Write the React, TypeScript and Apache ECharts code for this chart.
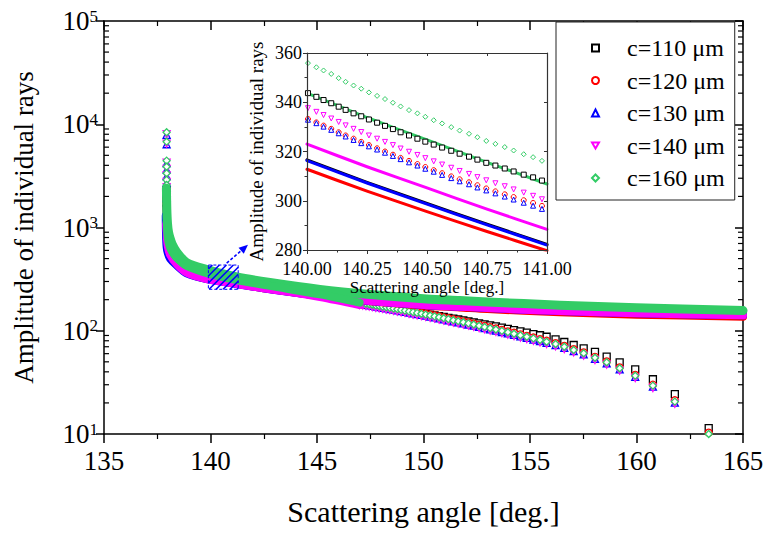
import React, { useEffect, useRef } from 'react';
import * as echarts from 'echarts';

const FONT = 'Liberation Serif';

const seriesNames = ['c=110 μm', 'c=120 μm', 'c=130 μm', 'c=140 μm', 'c=160 μm'];
const seriesColors = ['#000000', '#ff0000', '#0000ff', '#ff00ff', '#33cc66'];
const seriesSymbols = ['rect', 'circle', 'triangle', 'path://M0,0L10,0L5,8.66Z', 'diamond'];

// ---- main plot: upper (dense) branch, [angle, amplitude]
const upper110 = [[137.93,1600],[137.96,1050],[138.0,860],[138.1,680],[138.41,510],[138.88,410],[139.82,352],[141.23,307],[142.79,271],[145.14,233],[147.5,208],[150.15,190],[151.7,183],[153,177],[156.4,166],[160,157],[165,149]];
const upper120 = [[137.93,1000],[137.97,700],[138.05,580],[138.41,445],[138.88,368],[139.82,318],[141.23,285],[142.79,253],[145.14,218],[147.5,193],[150.15,175],[151.7,168],[153,162],[156.4,151],[160,143],[165,137]];
const upper130 = [[137.9,1300],[137.91,900],[137.94,650],[138.0,560],[138.1,500],[138.41,430],[138.88,360],[139.82,316],[141.23,284],[142.79,252],[145.14,218],[147.5,194],[150.15,177],[151.7,171],[153,166],[156.4,155],[160,148],[165,141]];
const upper140 = [[137.93,1100],[137.96,760],[138.0,650],[138.1,545],[138.41,443],[138.88,365],[139.82,317],[141.23,284],[142.79,252],[145.14,218],[147.5,194],[150.15,177],[151.7,171],[153,166],[156.4,155],[160,148],[165,141]];
const upper160 = [[137.93,2400],[137.95,1500],[137.98,1100],[138.03,900],[138.1,790],[138.2,690],[138.41,580],[138.88,458],[139.82,392],[141.23,332],[142.79,293],[145.14,251],[147.5,224],[150.15,203],[151.7,196],[153,190],[156.4,177],[160,167],[165,157]];

// ---- main plot: lower branch where its markers overlap into a band (before 147°)
const lower110 = [[137.94,1200],[138.02,720],[138.1,620],[138.41,495],[138.88,415],[139.82,356],[141.23,305],[142.79,268],[145.14,222],[147.0,185.2]];
const lower120 = [[137.94,1250],[138.02,730],[138.1,630],[138.41,500],[138.88,420],[139.82,360],[141.23,309],[142.79,272],[145.14,226],[147.0,190.8]];
const lower130 = [[137.93,1100],[138.02,690],[138.1,600],[138.41,485],[138.88,408],[139.82,350],[141.23,300],[142.79,263],[145.14,217],[147.0,182.4]];
const lower140 = [[137.93,1050],[138.02,680],[138.1,590],[138.41,478],[138.88,402],[139.82,344],[141.23,295],[142.79,258],[145.14,212],[147.0,177.7]];
const lower160 = [[137.94,1300],[137.97,900],[138.02,740],[138.1,640],[138.2,580],[138.41,507],[138.88,424],[139.82,362],[141.23,310],[142.79,272],[145.14,225],[147.0,187.1]];

// ---- main plot: lower branch, individual markers (147° onwards)
const tailAngles = [147.0,147.15,147.3,147.45,147.6,147.76,147.92,148.08,148.25,148.42,148.59,148.77,148.95,149.13,149.32,149.51,149.7,149.9,150.1,150.31,150.52,150.73,150.95,151.17,151.4,151.63,151.87,152.11,152.36,152.61,152.87,153.13,153.4,153.68,153.96,154.25,154.55,154.85,155.16,155.47,155.78,156.2,156.61,157.05,157.52,158.05,158.6,159.21,159.94,160.77,161.8,163.39];
const tail110 = [185.2,183.1,180.9,178.7,176.5,174.2,172.0,170.5,168.2,165.8,163.4,161.7,159.2,157.0,154.8,152.5,150.4,148.0,145.8,143.4,141.0,138.6,136.0,133.5,131.0,128.6,126.0,123.5,120.8,118.1,115.4,112.8,110.1,107.3,104.4,101.6,98.6,95.7,92.7,90.5,87.5,82.6,77.8,72.8,67.6,62.3,56.1,49.5,42.3,33.9,24.3,11.4];
const tail120 = [190.8,188.6,186.4,184.1,181.9,179.5,177.2,174.8,172.4,169.9,167.5,164.9,162.4,159.8,157.1,154.4,151.9,149.0,146.4,143.5,140.7,137.9,134.9,132.1,129.1,126.3,123.2,120.3,117.2,114.1,111.1,108.0,105.0,101.8,98.6,95.5,92.3,89.1,86.0,82.9,79.9,75.9,71.4,66.4,61.7,55.9,50.5,44.2,37.4,30.0,21.2,10.3];
const tail130 = [182.4,180.3,178.1,176.0,173.8,171.6,169.4,167.1,164.8,162.4,160.1,157.7,155.2,152.8,150.2,147.6,145.2,142.4,139.9,137.2,134.5,131.8,129.0,126.3,123.4,120.7,117.8,115.0,112.0,109.1,106.2,103.3,100.3,97.3,94.3,91.3,88.2,85.2,82.2,79.3,76.3,72.5,68.3,63.5,59.0,53.4,48.3,42.2,35.8,28.7,20.1,9.8];
const tail140 = [177.7,175.7,173.6,171.5,169.4,167.2,165.0,162.8,160.6,158.3,156.0,153.6,151.2,148.9,146.3,143.8,141.5,138.8,136.3,133.7,131.0,128.4,125.7,123.0,120.3,117.6,114.8,112.0,109.2,106.3,103.5,100.6,97.8,94.8,91.9,88.9,86.0,83.0,80.1,77.2,74.4,70.7,66.5,61.8,57.5,52.1,47.0,41.1,34.9,27.9,19.6,9.5];
const tail160 = [187.1,184.9,182.7,180.5,178.3,176.0,173.7,171.4,169.0,166.6,164.2,161.7,159.2,156.7,154.0,151.4,148.9,146.1,143.5,140.7,137.9,135.2,132.3,129.5,126.6,123.8,120.8,117.9,114.9,111.9,108.9,105.9,102.9,99.8,96.7,93.6,90.5,87.4,84.3,81.3,78.3,74.4,70.0,65.1,60.5,54.8,49.5,43.3,36.7,29.4,20.6,10.0];

// ---- main plot: caustic spike at the rainbow angle
const spikeAngle = 137.94;
const spike110 = [2300,2100,1900,1750];
const spike120 = [2250,2050,1880,1720];
const spike130 = [7900,6400,4200,3650,3150,2720,2430,2170,1940];
const spike140 = [8000,6500,4250,3700,3200,2760,2460,2200,1960];
const spike160 = [8360,6780,4440,3880,3350,2890,2580,2310,2060];

// ---- inset: sparse branch markers
const insetAngles = [140.004,140.039,140.069,140.101,140.132,140.161,140.194,140.226,140.258,140.292,140.325,140.358,140.390,140.425,140.460,140.493,140.528,140.563,140.601,140.636,140.675,140.710,140.747,140.785,140.824,140.861,140.903,140.942,140.979];
const insetSparse110 = [343.7,342.2,340.9,339.6,338.2,336.9,335.5,334.3,333.0,331.7,330.4,329.1,327.8,326.5,325.2,324.0,322.8,321.6,320.3,319.1,317.9,316.7,315.4,314.3,313.1,311.9,310.6,309.5,308.2];
const insetSparse120 = [333.2,331.8,330.5,329.2,327.8,326.5,325.2,323.9,322.6,321.3,320.0,318.7,317.4,316.2,314.9,313.7,312.4,311.2,309.9,308.7,307.5,306.3,305.0,303.8,302.6,301.5,300.2,299.1,297.9];
const insetSparse130 = [332.9,331.5,330.1,328.8,327.4,326.1,324.7,323.4,322.1,320.8,319.5,318.2,316.9,315.6,314.3,313.0,311.8,310.5,309.2,307.9,306.7,305.4,304.2,303.0,301.7,300.5,299.2,298.0,296.7];
const insetSparse140 = [337.6,336.1,334.8,333.4,332.0,330.6,329.2,327.9,326.5,325.2,323.9,322.6,321.2,319.9,318.6,317.3,316.0,314.7,313.4,312.1,310.9,309.6,308.3,307.1,305.9,304.6,303.3,302.0,300.6];
const insetSparse160 = [355.9,354.2,352.9,351.5,349.8,348.3,346.8,345.5,344.0,342.6,341.3,339.8,338.3,336.8,335.5,334.1,332.7,331.4,329.9,328.5,327.2,325.8,324.3,323.1,321.8,320.4,318.9,317.7,316.2];

// ---- inset: dense branch
const insetDense110 = [[140,316.6],[140.25,307.5],[140.5,298.9],[140.75,290.5],[141,282.3]];
const insetDense120 = [[140,312.8],[140.25,303.9],[140.5,295.6],[140.75,287.5],[141,279.7]];
const insetDense130 = [[140,316.3],[140.25,307.2],[140.5,298.6],[140.75,290.2],[141,282.0]];
const insetDense140 = [[140,323.0],[140.25,313.8],[140.5,305.2],[140.75,296.6],[141,288.4]];
const insetDense160 = [[140,343.7],[140.25,333.8],[140.5,324.7],[140.75,315.6],[141,306.8]];

// ---- annotation: zoom box and arrow, data coordinates
const zoomBoxAngles = [139.9, 141.3];
const zoomBoxAmps = [252, 433];
const arrowFrom = [140.76, 452];
const arrowTo = [141.76, 680];

const uppers = [upper110, upper120, upper130, upper140, upper160];
const lowers = [lower110, lower120, lower130, lower140, lower160];
const tails = [tail110, tail120, tail130, tail140, tail160];
const spikes = [spike110, spike120, spike130, spike140, spike160];
const insetSparse = [insetSparse110, insetSparse120, insetSparse130, insetSparse140, insetSparse160];
const insetDense = [insetDense110, insetDense120, insetDense130, insetDense140, insetDense160];

function buildOption() {
  const series: any[] = [];
  const lineS = (name: string, data: any, color: string, width: number, xi: number, yi: number) => ({
    type: 'line', name, data, xAxisIndex: xi, yAxisIndex: yi, showSymbol: false, symbol: 'none',
    smooth: 0.3, clip: true, silent: true,
    lineStyle: { color, width, cap: 'round', join: 'round' },
  });
  const scatS = (name: string, data: any, i: number, size: number, xi: number, yi: number, bw: number) => ({
    type: 'scatter', name, data, xAxisIndex: xi, yAxisIndex: yi, clip: true, silent: true,
    symbol: seriesSymbols[i], symbolSize: size,
    itemStyle: { color: '#ffffff', borderColor: seriesColors[i], borderWidth: bw, opacity: 1 },
  });
  for (let i = 0; i < 5; i++) {
    series.push(lineS('up' + i, uppers[i], seriesColors[i], i === 4 ? 9 : 8, 0, 0));
    series.push(lineS('lo' + i, lowers[i], seriesColors[i], 8, 0, 0));
  }
  for (let i = 0; i < 5; i++) {
    series.push(scatS(seriesNames[i], tailAngles.map((a, k) => [a, tails[i][k]]), i, 7, 0, 0, 1.3));
  }
  for (let i = 0; i < 5; i++) {
    series.push(scatS('sp' + i, spikes[i].map((v) => [spikeAngle, v]), i, 7, 0, 0, 1.3));
  }
  for (let i = 0; i < 5; i++) {
    series.push({ ...lineS('id' + i, insetDense[i], seriesColors[i], 3, 2, 2), smooth: 0.2, z: 3 });
  }
  for (let i = 0; i < 5; i++) {
    series.push({ ...scatS('is' + i, insetAngles.map((a, k) => [a, insetSparse[i][k]]), i, 5, 2, 2, 1), z: 3 });
  }

  const black = '#000';
  const mainLine = { show: true, lineStyle: { color: black, width: 1.5 } };
  const insetLine = { show: true, lineStyle: { color: '#333', width: 1.2 } };

  return {
    animation: false,
    backgroundColor: '#ffffff',
    textStyle: { fontFamily: FONT, color: black },
    grid: [
      { left: 104, top: 21, width: 639, height: 413 },
      { left: 307, top: 53, width: 240, height: 197 },
    ],
    legend: {
      orient: 'vertical', left: 556, top: 22, padding: [14, 10, 10, 35], itemGap: 8.5,
      itemWidth: 7, itemHeight: 7, borderColor: '#222', borderWidth: 1, backgroundColor: '#fff',
      selectedMode: false, data: seriesNames,
      textStyle: { fontFamily: FONT, fontSize: 24, color: black, padding: [0, 0, 0, 23] },
    },
    xAxis: [
      {
        type: 'value', gridIndex: 0, min: 135, max: 165, interval: 5, position: 'bottom',
        axisLine: mainLine, axisTick: { show: true, inside: false, length: 9, lineStyle: { color: black, width: 1.5 } },
        minorTick: { show: true, splitNumber: 2, length: 5, lineStyle: { color: black, width: 1.2 } },
        splitLine: { show: false },
        axisLabel: { fontFamily: FONT, fontSize: 27, color: black, margin: 13 },
        name: 'Scattering angle [deg.]', nameLocation: 'middle', nameGap: 62,
        nameTextStyle: { fontFamily: FONT, fontSize: 30, color: black },
      },
      {
        type: 'value', gridIndex: 0, min: 135, max: 165, interval: 5, position: 'top',
        axisLine: mainLine, axisTick: { show: true, inside: true, length: 9, lineStyle: { color: black, width: 1.5 } },
        minorTick: { show: true, splitNumber: 2, length: 5, lineStyle: { color: black, width: 1.2 } },
        splitLine: { show: false }, axisLabel: { show: false },
      },
      {
        type: 'value', gridIndex: 1, min: 140, max: 141, interval: 0.25, position: 'bottom', z: 6,
        axisLine: insetLine, axisTick: { show: true, inside: false, length: 4, lineStyle: { color: '#333' } },
        minorTick: { show: true, splitNumber: 2, length: 2.5, lineStyle: { color: '#333' } },
        splitLine: { show: false },
        axisLabel: { fontFamily: FONT, fontSize: 18, color: black, margin: 10, formatter: (v: number) => v.toFixed(2) },
        name: 'Scattering angle [deg.]', nameLocation: 'middle', nameGap: 27,
        nameTextStyle: { fontFamily: FONT, fontSize: 17, color: black },
      },
      {
        type: 'value', gridIndex: 1, min: 140, max: 141, interval: 0.25, position: 'top', z: 6,
        axisLine: insetLine, axisTick: { show: true, inside: true, length: 3, lineStyle: { color: '#333' } },
        minorTick: { show: false }, splitLine: { show: false }, axisLabel: { show: false },
      },
    ],
    yAxis: [
      {
        type: 'log', logBase: 10, gridIndex: 0, min: 10, max: 100000, position: 'left',
        axisLine: mainLine, axisTick: { show: true, inside: false, length: 8, lineStyle: { color: black, width: 1.5 } },
        splitLine: { show: false },
        axisLabel: {
          margin: 6, color: black,
          formatter: (v: number) => `{b|10}{s|${Math.round(Math.log10(v))}}`,
          rich: {
            b: { fontFamily: FONT, fontSize: 27, color: black },
            s: { fontFamily: FONT, fontSize: 17, color: black, verticalAlign: 'top' },
          },
        },
        name: 'Amplitude of individual rays', nameLocation: 'middle', nameGap: 67,
        nameTextStyle: { fontFamily: FONT, fontSize: 27, color: black },
      },
      {
        type: 'log', logBase: 10, gridIndex: 0, min: 10, max: 100000, position: 'right',
        axisLine: mainLine, axisTick: { show: true, inside: true, length: 8, lineStyle: { color: black, width: 1.5 } },
        splitLine: { show: false }, axisLabel: { show: false },
      },
      {
        type: 'value', gridIndex: 1, min: 280, max: 360, interval: 20, position: 'left', z: 6,
        axisLine: insetLine, axisTick: { show: true, inside: false, length: 4, lineStyle: { color: '#333' } },
        minorTick: { show: true, splitNumber: 2, length: 2.5, lineStyle: { color: '#333' } },
        splitLine: { show: false },
        axisLabel: { fontFamily: FONT, fontSize: 18, color: black, margin: 5 },
        name: 'Amplitude of individual rays', nameLocation: 'middle', nameGap: 41,
        nameTextStyle: { fontFamily: FONT, fontSize: 19, color: black },
      },
      {
        type: 'value', gridIndex: 1, min: 280, max: 360, interval: 20, position: 'right', z: 6,
        axisLine: insetLine, axisTick: { show: true, inside: true, length: 3, lineStyle: { color: '#333' } },
        minorTick: { show: false }, splitLine: { show: false }, axisLabel: { show: false },
      },
    ],
    series,
  };
}

export default function App() {
  const ref = useRef<HTMLDivElement>(null);
  useEffect(() => {
    const chart = echarts.init(ref.current!, null, { renderer: 'svg' });
    chart.setOption(buildOption() as any);

    const toPx = (pt: number[]) => chart.convertToPixel({ xAxisIndex: 0, yAxisIndex: 0 }, pt) as number[];
    const els: any[] = [];
    // log-axis minor ticks (2..9 x 10^k) on the left and right axes
    const xl = toPx([135, 100])[0];
    const xr = toPx([165, 100])[0];
    for (let k = 1; k < 5; k++) {
      for (let m = 2; m < 10; m++) {
        const y = toPx([135, m * Math.pow(10, k)])[1];
        els.push({ type: 'line', silent: true, z: 20, shape: { x1: xl, y1: y, x2: xl + 5, y2: y }, style: { stroke: '#000', lineWidth: 1.2 } });
        els.push({ type: 'line', silent: true, z: 20, shape: { x1: xr - 5, y1: y, x2: xr, y2: y }, style: { stroke: '#000', lineWidth: 1.2 } });
      }
    }
    // hatched zoom box
    const [bx0, by0] = toPx([zoomBoxAngles[0], zoomBoxAmps[1]]);
    const [bx1, by1] = toPx([zoomBoxAngles[1], zoomBoxAmps[0]]);
    for (let c = bx0 + by0 + 4; c < bx1 + by1; c += 7) {
      const xs = Math.max(bx0, c - by1);
      const xe = Math.min(bx1, c - by0);
      if (xe > xs) {
        els.push({ type: 'line', silent: true, z: 20, shape: { x1: xs, y1: c - xs, x2: xe, y2: c - xe }, style: { stroke: '#0000ff', lineWidth: 1.6 } });
      }
    }
    els.push({ type: 'rect', silent: true, z: 20, shape: { x: bx0, y: by0, width: bx1 - bx0, height: by1 - by0 }, style: { fill: 'none', stroke: '#0000ff', lineWidth: 1, lineDash: [3, 2] } });
    // dashed arrow
    const [ax0, ay0] = toPx(arrowFrom);
    const [ax1, ay1] = toPx(arrowTo);
    const len = Math.hypot(ax1 - ax0, ay1 - ay0);
    const ux = (ax1 - ax0) / len, uy = (ay1 - ay0) / len;
    const hx = ax1 - ux * 9, hy = ay1 - uy * 9;
    els.push({ type: 'line', silent: true, z: 20, shape: { x1: ax0, y1: ay0, x2: hx, y2: hy }, style: { stroke: '#0000ff', lineWidth: 1.5, lineDash: [3, 2] } });
    els.push({ type: 'polygon', silent: true, z: 20, shape: { points: [[ax1, ay1], [hx - uy * 4, hy + ux * 4], [hx + uy * 4, hy - ux * 4]] }, style: { fill: '#0000ff' } });

    chart.setOption({ graphic: { elements: els } });
    return () => chart.dispose();
  }, []);
  return <div ref={ref} style={{ position: 'fixed', left: 0, top: 0, width: 769, height: 534 }} />;
}
